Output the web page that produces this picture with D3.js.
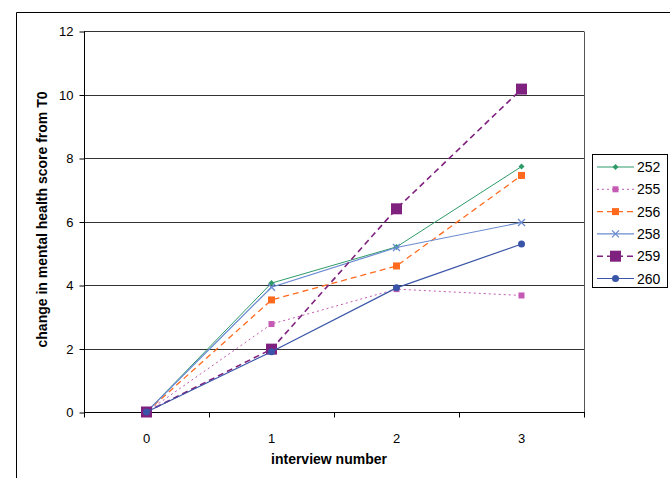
<!DOCTYPE html>
<html>
<head>
<meta charset="utf-8">
<script src="https://cdn.jsdelivr.net/npm/d3@7"></script>
<style>
  body { margin: 0; background: #fff; }
  text { font-family: "Liberation Sans", Arial, sans-serif; }
</style>
</head>
<body>
<div id="chart"></div>
<script>
// chart data
const interviews = [0, 1, 2, 3];
const yTicks = [0, 2, 4, 6, 8, 10, 12];
const seriesNames = ["252", "255", "256", "258", "259", "260"];
const s252 = [0, 4.06, 5.2, 7.73];
const s255 = [0, 2.77, 3.87, 3.67];
const s256 = [0, 3.53, 4.6, 7.45];
const s258 = [0, 3.93, 5.18, 5.97];
const s259 = [0, 1.98, 6.4, 10.17];
const s260 = [0, 1.9, 3.91, 5.29];

const styles = {
  "252": { color: "#2e9a68", dash: null, marker: "diamond", size: 5, width: 1 },
  "255": { color: "#c45ab3", dash: "2,3", marker: "square", size: 6, width: 1 },
  "256": { color: "#ff6a1f", dash: "6,4", marker: "square", size: 7, width: 1.3 },
  "258": { color: "#6a8bd0", dash: null, marker: "cross", size: 7, width: 1.2 },
  "259": { color: "#7f217f", dash: "6,4", marker: "square", size: 11, width: 1.6 },
  "260": { color: "#3a55a8", dash: null, marker: "circle", size: 7, width: 1.2 }
};
const seriesData = { "252": s252, "255": s255, "256": s256, "258": s258, "259": s259, "260": s260 };

const W = 670, H = 478;
const plot = { left: 84, right: 584, top: 31, bottom: 412 };

const svg = d3.select("#chart").append("svg").attr("width", W).attr("height", H);

// outer frame (cut by the window on the right and bottom)
svg.append("path")
  .attr("d", `M16.5,${H} V12.5 H${W}`)
  .attr("fill", "none")
  .attr("stroke", "#000");

const x = d3.scaleBand().domain(interviews).range([plot.left, plot.right]);
const y = d3.scaleLinear().domain([0, 12]).range([plot.bottom, plot.top]);

// gridlines
svg.append("g")
  .selectAll("line")
  .data(yTicks.filter((d) => d > 0))
  .enter()
  .append("line")
  .attr("x1", plot.left)
  .attr("x2", plot.right)
  .attr("y1", (d) => Math.round(y(d)) + 0.5)
  .attr("y2", (d) => Math.round(y(d)) + 0.5)
  .attr("stroke", "#333");

// right border of plot area
svg.append("line")
  .attr("x1", plot.right + 0.5).attr("x2", plot.right + 0.5)
  .attr("y1", Math.round(y(12)) + 0.5).attr("y2", plot.bottom + 0.5)
  .attr("stroke", "#555");

// y axis
const yAxis = svg.append("g")
  .attr("transform", `translate(${plot.left + 0.5},0.5)`)
  .call(d3.axisLeft(y).tickValues(yTicks).tickSize(5).tickPadding(6).tickFormat(d3.format("d")));
yAxis.selectAll("text").attr("font-size", 13).attr("fill", "#000").attr("font-family", "Liberation Sans, Arial, sans-serif");
yAxis.selectAll("line, path").attr("stroke", "#000");
yAxis.select(".domain").attr("d", `M0,${Math.round(y(12))}V${plot.bottom}`);

// x axis: ticks between categories
const xAxis = svg.append("g").attr("transform", `translate(0,${plot.bottom + 0.5})`);
xAxis.append("line")
  .attr("x1", plot.left).attr("x2", plot.right + 1)
  .attr("stroke", "#000");
const bounds = interviews.map((d) => x(d)).concat([plot.right]);
xAxis.selectAll(".tk")
  .data(bounds)
  .enter()
  .append("line")
  .attr("class", "tk")
  .attr("x1", (d) => Math.round(d) + 0.5)
  .attr("x2", (d) => Math.round(d) + 0.5)
  .attr("y1", 0)
  .attr("y2", 5)
  .attr("stroke", "#000");
xAxis.selectAll(".lbl")
  .data(interviews)
  .enter()
  .append("text")
  .attr("class", "lbl")
  .attr("x", (d) => x(d) + x.bandwidth() / 2)
  .attr("y", 30)
  .attr("text-anchor", "middle")
  .attr("font-size", 13)
  .text((d) => d);

// axis titles
svg.append("text")
  .attr("x", (plot.left + plot.right) / 2 - 5)
  .attr("y", 464)
  .attr("text-anchor", "middle")
  .attr("font-size", 14)
  .attr("font-weight", "bold")
  .text("interview number");

svg.append("text")
  .attr("transform", `translate(47,${(plot.top + plot.bottom) / 2 - 2}) rotate(-90)`)
  .attr("text-anchor", "middle")
  .attr("font-size", 14)
  .attr("font-weight", "bold")
  .text("change in mental health score from T0");

// markers
function drawMarker(g, st, cx, cy) {
  const s = st.size;
  if (st.marker === "square") {
    g.append("rect")
      .attr("x", cx - s / 2).attr("y", cy - s / 2)
      .attr("width", s).attr("height", s)
      .attr("fill", st.color);
  } else if (st.marker === "diamond") {
    g.append("path")
      .attr("d", `M${cx},${cy - s / 2 - 0.5}L${cx + s / 2 + 0.5},${cy}L${cx},${cy + s / 2 + 0.5}L${cx - s / 2 - 0.5},${cy}Z`)
      .attr("fill", st.color);
  } else if (st.marker === "circle") {
    g.append("circle").attr("cx", cx).attr("cy", cy).attr("r", s / 2).attr("fill", st.color);
  } else if (st.marker === "cross") {
    const h = s / 2;
    g.append("path")
      .attr("d", `M${cx - h},${cy - h}L${cx + h},${cy + h}M${cx - h},${cy + h}L${cx + h},${cy - h}`)
      .attr("stroke", st.color)
      .attr("stroke-width", 1.3)
      .attr("fill", "none");
  }
}

const line = d3.line()
  .x((d, i) => x(interviews[i]) + x.bandwidth() / 2)
  .y((d) => y(d));

const seriesG = svg.append("g");
seriesNames.forEach((name) => {
  const st = styles[name];
  const vals = seriesData[name];
  const g = seriesG.append("g");
  g.append("path")
    .attr("d", line(vals))
    .attr("fill", "none")
    .attr("stroke", st.color)
    .attr("stroke-width", st.width)
    .attr("stroke-dasharray", st.dash);
  vals.forEach((v, i) => drawMarker(g, st, x(interviews[i]) + x.bandwidth() / 2, y(v)));
});

// legend
const legend = svg.append("g");
legend.append("rect")
  .attr("x", 592.5).attr("y", 154.5)
  .attr("width", 75).attr("height", 133)
  .attr("fill", "#fff")
  .attr("stroke", "#000");
seriesNames.forEach((name, i) => {
  const st = styles[name];
  const ly = 167 + i * 22.3;
  const g = legend.append("g");
  g.append("line")
    .attr("x1", 597).attr("x2", 634)
    .attr("y1", ly).attr("y2", ly)
    .attr("stroke", st.color)
    .attr("stroke-width", st.width)
    .attr("stroke-dasharray", st.dash);
  drawMarker(g, st, 615.5, ly);
  g.append("text")
    .attr("x", 637)
    .attr("y", ly + 5)
    .attr("font-size", 14)
    .text(name);
});
</script>
</body>
</html>
